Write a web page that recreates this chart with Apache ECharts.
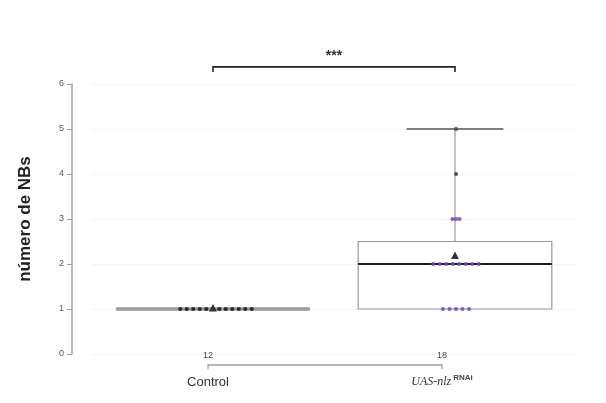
<!DOCTYPE html>
<html><head><meta charset="utf-8">
<script src="https://cdn.jsdelivr.net/npm/echarts@6/dist/echarts.min.js"></script>
<style>html,body{margin:0;padding:0;background:#fff}#c{width:606px;height:403px}</style>
</head><body><div id="c"></div>
<script>
// ---- data ----
const categories = ['Control', 'UAS-nlz'];
const categorySup = ['', 'RNAi'];
const controlValues = [1,1,1,1,1,1,1,1,1,1,1,1];
const rnaiValues = [1,1,1,1,1,2,2,2,2,2,2,2,2,3,3,3,4,5];
// [min, q1, median, q3, max]
const controlBox = [1, 1, 1, 1, 1];
const rnaiBox = [1, 1, 2, 2.5, 5];
const yTicks = [0, 1, 2, 3, 4, 5, 6];
const sigLabel = '***';
const sigLevel = 6.38;

// ---- build ----
const groups = [controlValues, rnaiValues];
const boxes = [controlBox, rnaiBox];
const counts = groups.map(g => g.length);
const means = groups.map(g => g.reduce((a, b) => a + b, 0) / g.length);
const medianColors = ['#9a9a9a', '#1a1a1a'];

const pointData = [];
groups.forEach((g, gi) => {
  const byVal = {};
  g.forEach(v => { (byVal[v] = byVal[v] || []).push(v); });
  Object.keys(byVal).forEach(k => {
    const arr = byVal[k];
    arr.forEach((v, j) => pointData.push([gi, v, j - (arr.length - 1) / 2, arr.length]));
  });
});

const chart = echarts.init(document.getElementById('c'));
const GRID = { top: 84, bottom: 49 };
chart.setOption({
  backgroundColor: '#fff',
  animation: false,
  grid: [
    { left: 92, right: 30, top: GRID.top, bottom: GRID.bottom },
    { left: 91, right: 47, top: GRID.top, bottom: GRID.bottom }
  ],
  xAxis: [
    { type: 'category', data: categories, gridIndex: 0, boundaryGap: true,
      axisLine: { show: false }, axisTick: { show: false }, axisLabel: { show: false },
      splitLine: { show: false } },
    { type: 'category', data: categories, gridIndex: 1, boundaryGap: true,
      axisLine: { show: false }, axisTick: { show: false },
      axisLabel: {
        margin: -4,
        formatter: (val, idx) => '{n|' + counts[idx] + '}\n' +
          (categorySup[idx] ? '{i|' + val + '}{s|' + categorySup[idx] + '}' : '{c|' + val + '}'),
        rich: {
          n: { fontSize: 9, color: '#444', lineHeight: 12, fontFamily: 'Liberation Sans' },
          c: { fontSize: 13, color: '#333', lineHeight: 40, fontFamily: 'Liberation Sans' },
          i: { fontSize: 12, color: '#333', lineHeight: 40, fontStyle: 'italic', fontFamily: 'Liberation Serif' },
          s: { fontSize: 8, color: '#444', lineHeight: 40, fontWeight: 'bold', fontFamily: 'Liberation Sans', padding: [0, 0, 9, 2] }
        }
      } }
  ],
  yAxis: [
    { type: 'value', gridIndex: 0, min: yTicks[0], max: yTicks[yTicks.length - 1], interval: 1,
      offset: 20,
      name: 'número de NBs', nameLocation: 'middle', nameGap: 38,
      nameTextStyle: { fontSize: 17, fontWeight: 'bold', color: '#222', fontFamily: 'Liberation Sans' },
      axisLine: { show: true, lineStyle: { color: '#a0a0a0', width: 1.5 } },
      axisTick: { show: true, length: 5, lineStyle: { color: '#a0a0a0' } },
      axisLabel: { fontSize: 9, color: '#555', margin: 8, fontFamily: 'Liberation Sans' },
      splitLine: { show: true, lineStyle: { color: '#f3f3f3' } } },
    { type: 'value', gridIndex: 1, min: 0, max: 6, show: false }
  ],
  series: [
    { // boxes
      type: 'custom', xAxisIndex: 0, yAxisIndex: 0, z: 2,
      data: boxes.map((b, i) => [i].concat(b)),
      renderItem: (params, api) => {
        const i = api.value(0);
        const mn = api.value(1), q1 = api.value(2), md = api.value(3), q3 = api.value(4), mx = api.value(5);
        const cx = api.coord([i, md])[0];
        const band = api.size([1, 0])[0];
        const hw = band * 0.4;
        const y = v => api.coord([i, v])[1];
        const children = [];
        if (mx > q3) {
          children.push({ type: 'line', shape: { x1: cx, y1: y(q3), x2: cx, y2: y(mx) }, style: { stroke: '#8c8c8c', lineWidth: 1 } });
          children.push({ type: 'line', shape: { x1: cx - hw / 2, y1: y(mx), x2: cx + hw / 2, y2: y(mx) }, style: { stroke: '#555', lineWidth: 1.5 } });
        }
        if (mn < q1) {
          children.push({ type: 'line', shape: { x1: cx, y1: y(q1), x2: cx, y2: y(mn) }, style: { stroke: '#8c8c8c', lineWidth: 1 } });
          children.push({ type: 'line', shape: { x1: cx - hw / 2, y1: y(mn), x2: cx + hw / 2, y2: y(mn) }, style: { stroke: '#555', lineWidth: 1.5 } });
        }
        children.push({ type: 'rect', shape: { x: cx - hw, y: y(q3), width: 2 * hw, height: y(q1) - y(q3) },
          style: { stroke: '#9a9a9a', fill: 'rgba(255,255,255,0)', lineWidth: 1.2 } });
        children.push({ type: 'line', shape: { x1: cx - hw, y1: y(md), x2: cx + hw, y2: y(md) },
          style: { stroke: medianColors[i], lineWidth: i === 0 ? 3.5 : 2 } });
        return { type: 'group', children };
      }
    },
    { // points
      type: 'custom', xAxisIndex: 0, yAxisIndex: 0, z: 3,
      data: pointData,
      renderItem: (params, api) => {
        const g = api.value(0), v = api.value(1), off = api.value(2), k = api.value(3);
        const p = api.coord([g, v]);
        const step = k <= 3 ? 3.5 : 6.5;
        const color = g === 0 ? '#2a2a2a' : (v <= 3 ? 'rgba(110,70,200,0.85)' : '#555');
        return { type: 'circle', shape: { cx: p[0] + off * step + (g === 0 ? 3 : 1), cy: p[1], r: 2.1 }, style: { fill: color } };
      }
    },
    { // means
      type: 'custom', xAxisIndex: 0, yAxisIndex: 0, z: 4,
      data: means.map((m, i) => [i, m]),
      renderItem: (params, api) => {
        const p = api.coord([api.value(0), api.value(1)]);
        return { type: 'polygon', shape: { points: [[p[0], p[1] - 5], [p[0] - 4, p[1] + 2.5], [p[0] + 4, p[1] + 2.5]] }, style: { fill: '#333' } };
      }
    },
    { // significance bracket
      type: 'custom', xAxisIndex: 0, yAxisIndex: 0, z: 5, clip: false,
      data: [[0, 1, sigLevel]],
      renderItem: (params, api) => {
        const p0 = api.coord([api.value(0), api.value(2)]);
        const p1 = api.coord([api.value(1), api.value(2)]);
        return { type: 'group', children: [
          { type: 'polyline', shape: { points: [[p0[0], p0[1] + 5], [p0[0], p0[1]], [p1[0], p1[1]], [p1[0], p1[1] + 5]] },
            style: { stroke: '#222', lineWidth: 1.6, fill: null } },
          { type: 'text', style: { x: (p0[0] + p1[0]) / 2, y: p0[1] - 11, text: sigLabel, fill: '#333',
            font: 'bold 14px "Liberation Sans"', align: 'center', verticalAlign: 'middle' } }
        ] };
      }
    },
    { // x-axis line between categories
      type: 'custom', xAxisIndex: 1, yAxisIndex: 1, z: 1, clip: false,
      data: [[0, 1]],
      renderItem: (params, api) => {
        const p0 = api.coord([api.value(0), 0]);
        const p1 = api.coord([api.value(1), 0]);
        const yy = p0[1] + 11;
        return { type: 'polyline', shape: { points: [[p0[0], yy + 4], [p0[0], yy], [p1[0], yy], [p1[0], yy + 4]] },
          style: { stroke: '#a0a0a0', lineWidth: 1.3, fill: null } };
      }
    }
  ]
});
</script></body></html>
